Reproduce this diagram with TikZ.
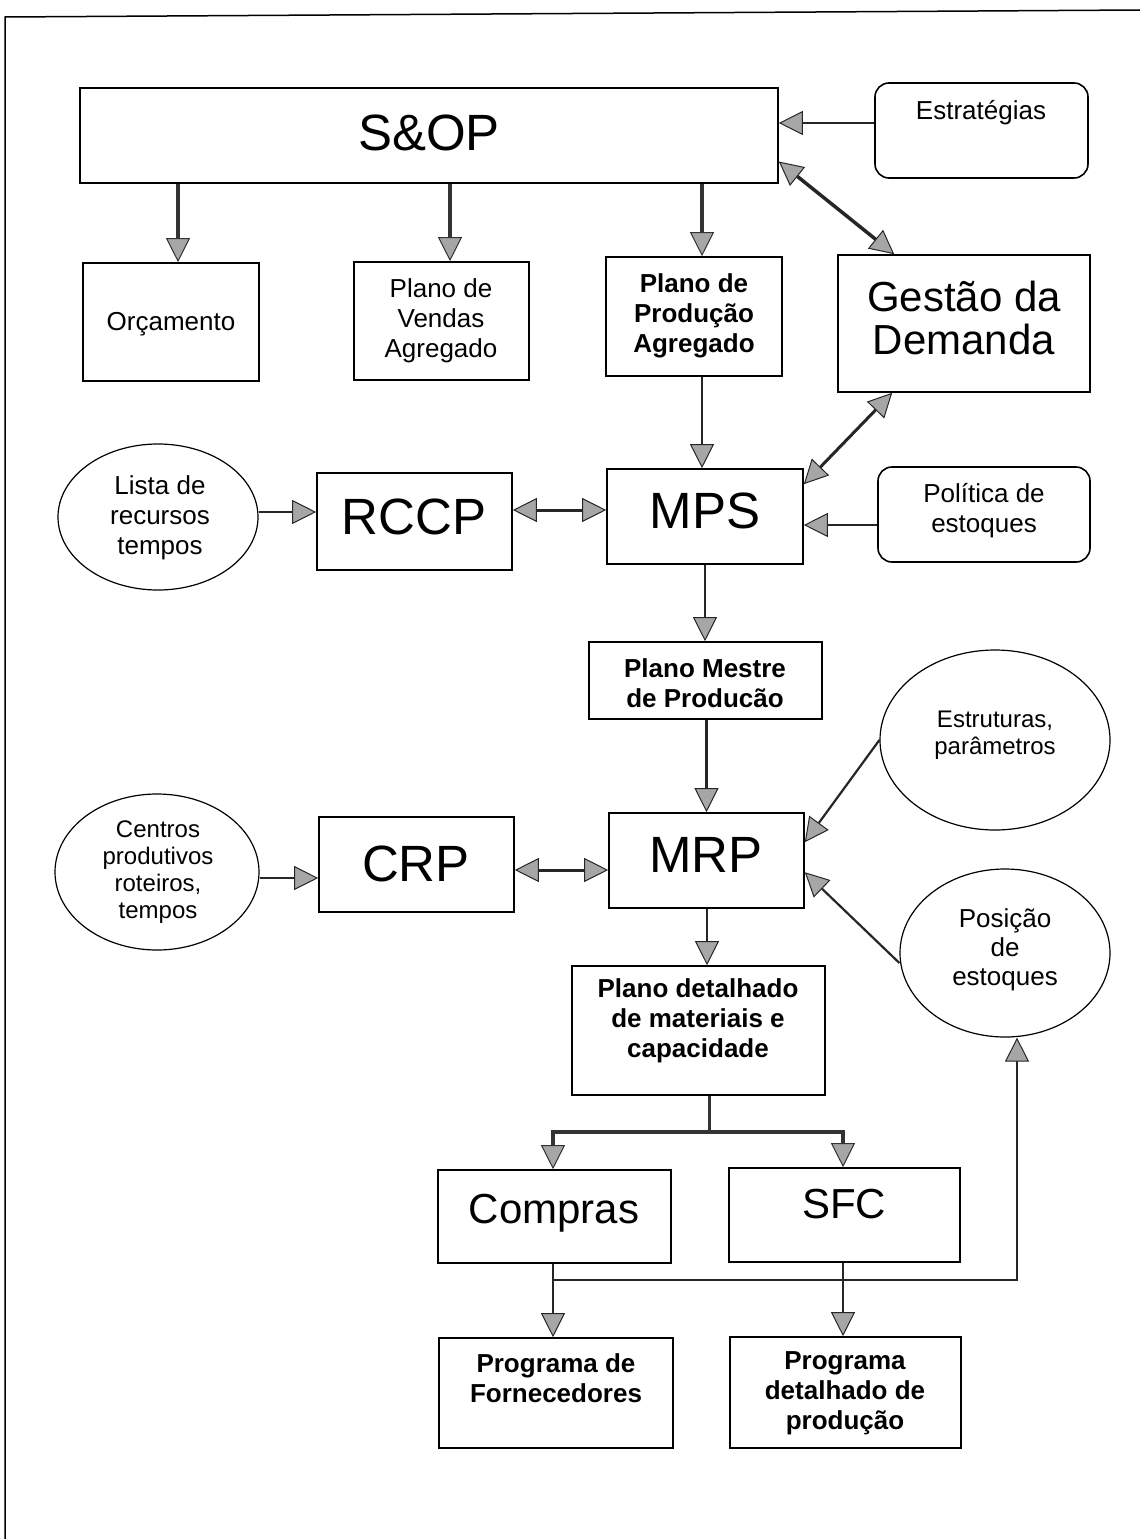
\documentclass[tikz,border=0pt]{standalone}
\usepackage{fontspec}
\setmainfont{Liberation Sans}
\usetikzlibrary{arrows.meta,calc,shapes.geometric}

\tikzset{
  box/.style={draw, line width=1.6pt, inner sep=0pt},
  rbox/.style={box, rounded corners=14pt},
  oval/.style={draw, ellipse, line width=1.2pt, inner sep=0pt},
  big/.style={font=\fontsize{51}{53}\selectfont},
  mid/.style={font=\fontsize{42}{43}\selectfont, align=center},
  small/.style={font=\fontsize{26}{30}\selectfont, align=center},
  smallb/.style={font=\fontsize{26}{30}\selectfont\bfseries, align=center},
  tiny/.style={font=\fontsize{24}{27}\selectfont, align=center},
  headtip/.tip={Triangle[length=24pt,width=24pt,line width=1pt,fill=gray!70]},
  arr/.style={-headtip, line width=1.8pt, draw=black!85},
  arrthick/.style={-headtip, line width=3.2pt, draw=black!80},
  darr/.style={headtip-headtip, line width=3pt, draw=black!85},
}

\begin{document}
\begin{tikzpicture}[x=1pt,y=-1pt]
\useasboundingbox (0,0) rectangle (1140,1539);

% frame lines
\draw[line width=1.5pt] (5,1539) -- (5,17) -- (1140,10);

% ---- boxes and ovals ----
\node[box, minimum width=698pt, minimum height=95pt] (sop) at (429,135.5) {};
\node[rbox, minimum width=213pt, minimum height=95pt] (estr) at (981.5,130.5) {};
\node[box, minimum width=176pt, minimum height=118pt] (orc) at (171,322) {};
\node[box, minimum width=175pt, minimum height=118pt] (pvend) at (441.5,321) {};
\node[box, minimum width=176pt, minimum height=119pt] (pprod) at (694,316.5) {};
\node[box, minimum width=252pt, minimum height=137pt] (gest) at (964,323.5) {};

\node[oval, minimum width=200pt, minimum height=146pt] (lista) at (158,517) {};
\node[box, minimum width=195pt, minimum height=97pt] (rccp) at (414.5,521.5) {};
\node[box, minimum width=196pt, minimum height=95pt] (mps) at (705,516.5) {};
\node[rbox, minimum width=212pt, minimum height=95pt] (pol) at (984,514.5) {};

\node[box, minimum width=233pt, minimum height=77pt] (pm) at (705.5,680.5) {};
\node[oval, minimum width=230pt, minimum height=180pt] (estrut) at (995,740) {};

\node[oval, minimum width=204pt, minimum height=156pt] (centros) at (157,872) {};
\node[box, minimum width=195pt, minimum height=95pt] (crp) at (416.5,864.5) {};
\node[box, minimum width=195pt, minimum height=95pt] (mrp) at (706.5,860.5) {};
\node[oval, minimum width=210pt, minimum height=168pt] (pos) at (1005,953) {};

\node[box, minimum width=253pt, minimum height=129pt] (pdet) at (698.5,1030.5) {};
\node[box, minimum width=233pt, minimum height=93pt] (compras) at (554.5,1216.5) {};
\node[box, minimum width=231pt, minimum height=94pt] (sfc) at (844.5,1215) {};
\node[box, minimum width=234pt, minimum height=110pt] (pforn) at (556,1393) {};
\node[box, minimum width=231pt, minimum height=111pt] (pdetp) at (845.5,1392.5) {};

% ---- texts ----
\node[big] (tsop) at (429,133) {S\&OP};
\node[small] (testr) at (981,113) {Estratégias};
\node[small] (torc) at (171,324) {Orçamento};
\node[small] (tpvend) at (441,321) {Plano de\\Vendas\\Agregado};
\node[smallb] (tpprod) at (694,316) {Plano de\\Produção\\Agregado};
\node[mid] (tgest) at (964,318) {Gestão da\\Demanda};
\node[small] (tlista) at (160,518) {Lista de\\recursos\\tempos};
\node[big] (trccp) at (414,517) {RCCP};
\node[big] (tmps) at (705,511) {MPS};
\node[small] (tpol) at (984,511) {Política de\\estoques};
\node[smallb] (tpm) at (705,683) {Plano Mestre\\de Producão};
\node[tiny] (testrut) at (995,735) {Estruturas,\\parâmetros};
\node[big] (tmrp) at (706,855) {MRP};
\node[big] (tcrp) at (416,864) {CRP};
\node[tiny] (tcentros) at (158,872) {Centros\\produtivos\\roteiros,\\tempos};
\node[small, font=\fontsize{26}{29}\selectfont] (tpos) at (1005,950) {Posição\\de\\estoques};
\node[smallb] (tpdet) at (698,1021) {Plano detalhado\\de materiais e\\capacidade};
\node[mid] (tcompras) at (554,1213) {Compras};
\node[mid] (tsfc) at (844,1204) {SFC};
\node[smallb] (tpforn) at (556,1378) {Programa de\\Fornecedores};
\node[smallb] (tpdetp) at (845,1393) {Programa\\detalhado de\\produção};

% ---- reference positions for connectors ----
\coordinate (xorc) at (178,0);
\coordinate (xpv) at (450,0);
\coordinate (xpp) at (702,0);
\coordinate (xmps) at (705,0);
\coordinate (xmrp) at (707,0);
\coordinate (ylista) at (0,512);
\coordinate (yrccp) at (0,510);
\coordinate (ypol) at (0,525);
\coordinate (ycrp) at (0,870);
\coordinate (ycen) at (0,878);
\coordinate (yestr) at (0,123);
\coordinate (split) at (709,1132);
\coordinate (xcomp) at (553,0);
\coordinate (xsfc) at (843,0);
\coordinate (fbstart) at (554,1280);
\coordinate (xfb) at (1017,0);

% ---- connectors ----
\draw[arr] (estr.west |- yestr) -- (sop.east |- yestr);
\draw[darr, line width=3.5pt] ([yshift=-26pt]sop.east) -- ([xshift=57pt]gest.north west);

\draw[arrthick] (sop.south -| xorc) -- (orc.north -| xorc);
\draw[arrthick] (sop.south -| xpv) -- (pvend.north -| xpv);
\draw[arrthick] (sop.south -| xpp) -- (pprod.north -| xpp);

\draw[arr, line width=2.2pt] (pprod.south -| xpp) -- (mps.north -| xpp);
\draw[darr] ([xshift=55pt]gest.south west) -- ([yshift=-16pt]mps.north east);

\draw[arr] (lista.east |- ylista) -- (rccp.west |- ylista);
\draw[darr] (rccp.east |- yrccp) -- (mps.west |- yrccp);
\draw[arr] (pol.west |- ypol) -- (mps.east |- ypol);

\draw[arr, line width=2.2pt] (mps.south -| xmps) -- (pm.north -| xmps);
\draw[arr, line width=2.2pt] (pm.south -| mrp.north) -- (mrp.north);

\draw[arr] (centros.east |- ycen) -- (crp.west |- ycen);
\draw[darr] (crp.east |- ycrp) -- (mrp.west |- ycrp);
\draw[arr, line width=2.2pt] (estrut.west) -- ([yshift=-30pt]mrp.north east);
\draw[arr, line width=2.2pt] ([yshift=-10pt]pos.west) -- ([yshift=-60pt]mrp.north east);

\draw[arr, line width=2.2pt] (mrp.south -| xmrp) -- (pdet.north -| xmrp);

\draw[line width=3pt, black!80] (pdet.south -| split) -- (split);
\draw[arrthick] (split) -| (compras.north -| xcomp);
\draw[arrthick] (split) -| (sfc.north -| xsfc);

\draw[arr, line width=2.2pt] (compras.south -| xcomp) -- (pforn.north -| xcomp);
\draw[arr, line width=2.2pt] (sfc.south -| xsfc) -- (pdetp.north -| xsfc);

\draw[arr, line width=1.3pt] (fbstart) -| (pos.south -| xfb);
\end{tikzpicture}
\end{document}
